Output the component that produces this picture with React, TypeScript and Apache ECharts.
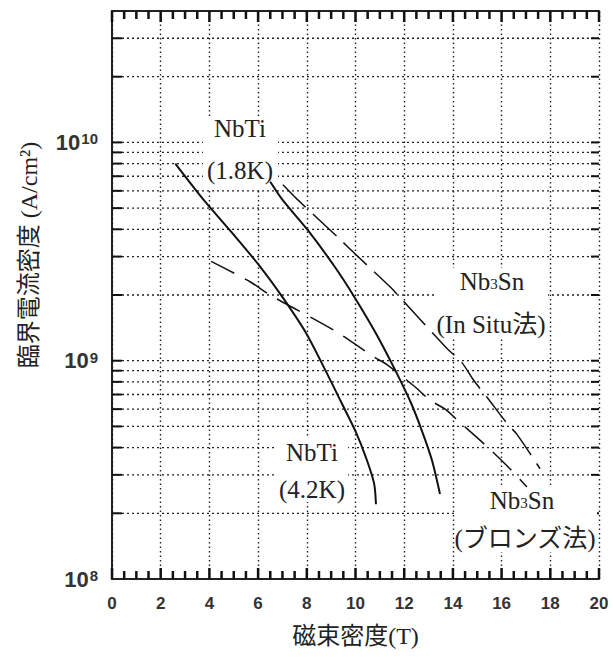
import React, { useEffect, useRef } from 'react';
import * as echarts from 'echarts';

// Magnetic flux density (T) and critical current density (A/cm^2)
const nbti42Field = [2.6, 3.74, 4.89, 6.08, 6.98, 7.95, 8.75, 9.4, 10.02, 10.43, 10.76, 10.84];
const nbti42Jc = [8.0e9, 5.5e9, 3.9e9, 2.7e9, 1.97e9, 1.35e9, 9.1e8, 6.5e8, 4.7e8, 3.6e8, 2.75e8, 2.2e8];

const nbti18Field = [6.5, 6.98, 8.09, 9.14, 9.94, 10.83, 11.62, 12.28, 12.75, 13.14, 13.47];
const nbti18Jc = [6.6e9, 5.5e9, 3.9e9, 2.7e9, 1.97e9, 1.34e9, 9.1e8, 6.4e8, 4.7e8, 3.5e8, 2.45e8];

const inSituField = [7.02, 7.6, 9.36, 10.1, 11.46, 11.79, 13.72, 14.37, 14.83, 15.4, 16.26, 16.63, 17.58];
const inSituJc = [6.4e9, 5.5e9, 3.6e9, 3.0e9, 2.16e9, 1.97e9, 1.15e9, 9.8e8, 8.2e8, 6.8e8, 5.1e8, 4.6e8, 3.2e8];

const bronzeField = [4.07, 5.67, 6.49, 7.6, 9.2, 10.76, 11.29, 12.44, 13.06, 13.72, 14.17, 15.32, 16.34, 17.04];
const bronzeJc = [2.85e9, 2.3e9, 2.0e9, 1.71e9, 1.36e9, 1.04e9, 9.6e8, 7.6e8, 6.6e8, 5.96e8, 5.36e8, 4.12e8, 3.2e8, 2.64e8];

// horizontal grid lines (1-2-...-9 per decade)
const gridLineValues = [
  2e8, 3e8, 4e8, 5e8, 6e8, 7e8, 8e8, 9e8,
  1e9, 2e9, 3e9, 4e9, 5e9, 6e9, 7e9, 8e9, 9e9,
  1e10, 2e10, 3e10,
];

const xMin = 0;
const xMax = 20;
const xInterval = 2;
const xMinorSplit = 4;
const yMin = 1e8;
const yMax = 4e10;
const yRef = 1e9;

const serif = '"Liberation Serif", "Times New Roman", "Noto Sans CJK JP", serif';
const sans = '"Liberation Sans", Arial, sans-serif';

function pairs(xs: number[], ys: number[]) {
  return xs.map((x, i) => [x, ys[i]]);
}

// tick positions along the field axis (every 0.5 T, major every 2 T)
const xTickPositions: number[] = [];
for (let i = 0; i <= ((xMax - xMin) / xInterval) * xMinorSplit; i++) {
  xTickPositions.push(xMin + (i * xInterval) / xMinorSplit);
}

export default function App() {
  const ref = useRef<HTMLDivElement>(null);

  useEffect(() => {
    const chart = echarts.init(ref.current!, null, { renderer: 'svg' });

    const axisLine = { show: true, lineStyle: { color: '#222', width: 2 } };

    const labelBox = (x: number, y: number, w: number, h: number) => ({
      type: 'rect', z: 50, silent: true,
      shape: { x, y, width: w, height: h },
      style: { fill: '#fff' },
    });
    const labelText = (x: number, y: number, text: string, rich?: any) => ({
      type: 'text', z: 51, silent: true, x, y,
      style: {
        text, fontFamily: serif, fontSize: 25, fill: '#222',
        align: 'center', verticalAlign: 'middle', rich,
      },
    });
    const nbRich = {
      a: { fontFamily: serif, fontSize: 25, fill: '#222', verticalAlign: 'bottom' },
      s: { fontFamily: serif, fontSize: 15, fill: '#222', verticalAlign: 'bottom', padding: [0, 0, 2, 0] },
    };

    chart.setOption({
      animation: false,
      backgroundColor: '#fff',
      grid: { left: 112, right: 14, top: 11, bottom: 78 },
      xAxis: [
        {
          type: 'value', min: xMin, max: xMax, interval: xInterval, position: 'bottom',
          axisLine, axisTick: { show: false }, minorTick: { show: false },
          splitLine: { show: true, lineStyle: { color: '#222', type: [1.5, 3], width: 1.4 } },
          axisLabel: {
            margin: 16, fontFamily: sans,
            fontWeight: 'bold', fontSize: 17, color: '#333',
          },
          name: '磁束密度(T)', nameLocation: 'middle', nameGap: 45,
          nameTextStyle: { fontFamily: serif, fontSize: 24, color: '#222' },
        },
        {
          type: 'value', min: xMin, max: xMax, interval: xInterval, position: 'top',
          axisLine, axisTick: { show: false }, minorTick: { show: false },
          splitLine: { show: false }, axisLabel: { show: false },
        },
      ],
      yAxis: [
        {
          type: 'log', logBase: 10, min: yMin, max: yMax, position: 'left',
          axisLine, axisTick: { show: false }, splitLine: { show: false },
          axisLabel: {
            margin: 14,
            fontFamily: sans, fontWeight: 'bold', fontSize: 22, color: '#333',
            formatter: (v: number) => {
              const e = Math.round(Math.log10(v));
              if (Math.abs(Math.log10(v) - e) > 1e-6) return '';
              return `{b|10}{s|${e}}`;
            },
            rich: {
              b: {
                fontFamily: sans, fontWeight: 'bold',
                fontSize: 22, lineHeight: 22, color: '#333', verticalAlign: 'bottom',
                padding: [8, 1, 0, 0],
              },
              s: {
                fontFamily: sans, fontWeight: 'bold',
                fontSize: 15, lineHeight: 15, color: '#333', verticalAlign: 'top',
              },
            },
          },
        },
        {
          type: 'log', logBase: 10, min: yMin, max: yMax, position: 'right',
          axisLine, axisTick: { show: false }, splitLine: { show: false },
          axisLabel: { show: false },
        },
      ],
      series: [
        {
          type: 'custom', xAxisIndex: 0, yAxisIndex: 0, z: 1, silent: true,
          data: gridLineValues.map((v) => [xMin, v]),
          renderItem: (_params: any, api: any) => {
            const v = api.value(1);
            const p0 = api.coord([xMin, v]);
            const p1 = api.coord([xMax, v]);
            return {
              type: 'group',
              children: [
                {
                  type: 'line',
                  shape: { x1: p0[0], y1: p0[1], x2: p1[0], y2: p1[1] },
                  style: { stroke: '#222', lineWidth: 1.3, lineDash: [2, 3] },
                },
                {
                  type: 'line',
                  shape: { x1: p0[0], y1: p0[1], x2: p0[0] + 10, y2: p0[1] },
                  style: { stroke: '#111', lineWidth: 2 },
                },
                {
                  type: 'line',
                  shape: { x1: p1[0] - 8, y1: p1[1], x2: p1[0], y2: p1[1] },
                  style: { stroke: '#111', lineWidth: 2 },
                },
              ],
            };
          },
        },
        {
          type: 'custom', xAxisIndex: 0, yAxisIndex: 0, z: 30, silent: true,
          data: xTickPositions.map((t) => [t, yRef]),
          renderItem: (params: any, api: any) => {
            const t = api.value(0);
            const major = Math.abs(t / xInterval - Math.round(t / xInterval)) < 1e-9;
            const len = major ? 11 : 8;
            const px = api.coord([t, yRef])[0];
            const cs = params.coordSys;
            const bottom = cs.y + cs.height;
            const top = cs.y;
            return {
              type: 'group',
              children: [
                {
                  type: 'rect',
                  shape: { x: px - 1.25, y: bottom - len, width: 2.5, height: len },
                  style: { fill: '#111' },
                },
                {
                  type: 'rect',
                  shape: { x: px - 1.25, y: top, width: 2.5, height: len },
                  style: { fill: '#111' },
                },
              ],
            };
          },
        },
        {
          name: 'NbTi (4.2K)', type: 'line', z: 60, smooth: 0.3, showSymbol: false,
          data: pairs(nbti42Field, nbti42Jc),
          lineStyle: { color: '#111', width: 2 },
        },
        {
          name: 'NbTi (1.8K)', type: 'line', z: 60, smooth: 0.3, showSymbol: false,
          data: pairs(nbti18Field, nbti18Jc),
          lineStyle: { color: '#111', width: 2 },
        },
        {
          name: 'Nb3Sn (In Situ法)', type: 'line', z: 60, smooth: 0.3, showSymbol: false,
          data: pairs(inSituField, inSituJc),
          lineStyle: { color: '#111', width: 1.5, type: [32, 10] },
        },
        {
          name: 'Nb3Sn (ブロンズ法)', type: 'line', z: 60, smooth: 0.3, showSymbol: false,
          data: pairs(bronzeField, bronzeJc),
          lineStyle: { color: '#111', width: 1.5, type: [26, 12] },
        },
      ],
      graphic: [
        labelBox(203, 117, 75, 71),
        labelText(240, 128, 'NbTi'),
        labelText(240, 170, '(1.8K)'),
        labelBox(275, 438, 73, 64),
        labelText(312, 452, 'NbTi'),
        labelText(312, 489, '(4.2K)'),
        labelBox(436, 268, 112, 69),
        labelText(492, 281, '{a|Nb}{s|3}{a|Sn}', nbRich),
        labelText(491, 324, '(In Situ法)'),
        labelBox(456, 485, 141, 67),
        labelText(522, 500, '{a|Nb}{s|3}{a|Sn}', nbRich),
        labelText(525, 538, '(ブロンズ法)'),
        {
          type: 'text', z: 51, silent: true, x: 29, y: 255, rotation: Math.PI / 2,
          style: {
            text: '臨界電流密度 (A/cm²)', fontFamily: serif, fontSize: 24, fill: '#222',
            align: 'center', verticalAlign: 'middle',
          },
        },
      ],
    });

    return () => chart.dispose();
  }, []);

  return <div ref={ref} style={{ width: 613, height: 657, position: 'absolute', left: 0, top: 0 }} />;
}
